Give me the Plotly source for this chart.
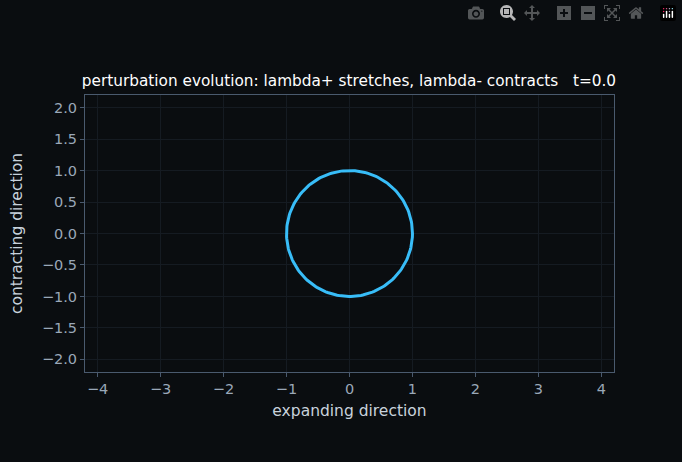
import numpy as np
import plotly.graph_objects as go

t_value = 0.0
stretch_plus = 1.0   # exp(lambda+ * t) at t=0
stretch_minus = 1.0  # exp(lambda- * t) at t=0
n_points = 200
theta = np.linspace(0, 2*np.pi, n_points)
x = stretch_plus*np.cos(theta)
y = stretch_minus*np.sin(theta)

x_ticks = [-4, -3, -2, -1, 0, 1, 2, 3, 4]
y_ticks = [-2.0, -1.5, -1.0, -0.5, 0.0, 0.5, 1.0, 1.5, 2.0]

fig = go.Figure(go.Scatter(x=x, y=y, mode="lines", line=dict(color="#38bdf8", width=3), showlegend=False))
axis_common = dict(showgrid=True, gridcolor="#151b22", zeroline=False, showline=True, mirror=True,
                   linecolor="#4a5a6e", ticks="outside", tickcolor="#4a5a6e", ticklen=4,
                   tickfont=dict(color="#9aa8b8", size=14.5), title_font=dict(color="#c8d2dc", size=15.5))
fig.update_xaxes(range=[-4.2, 4.2], tickvals=x_ticks, ticktext=[str(v).replace("-", "−") for v in x_ticks],
                 title_text="expanding direction", title_standoff=8, **axis_common)
fig.update_yaxes(range=[-2.2, 2.2], tickvals=y_ticks, ticktext=[f"{v:.1f}".replace("-", "−") for v in y_ticks],
                 title_text="contracting direction", **axis_common)
fig.update_layout(width=682, height=462, paper_bgcolor="#0a0d10", plot_bgcolor="#0a0d10",
                  margin=dict(l=85, r=68, t=95, b=90),
                  font=dict(family="DejaVu Sans"),
                  title=dict(text=f"perturbation evolution: lambda+ stretches, lambda- contracts   t={t_value}",
                             x=0.12, xanchor="left", y=0.825, yanchor="middle",
                             font=dict(color="#ffffff", size=15.3)))
fig.write_html("out.html",
               post_script="document.body.style.margin='0';document.body.style.background='#0a0d10';")
